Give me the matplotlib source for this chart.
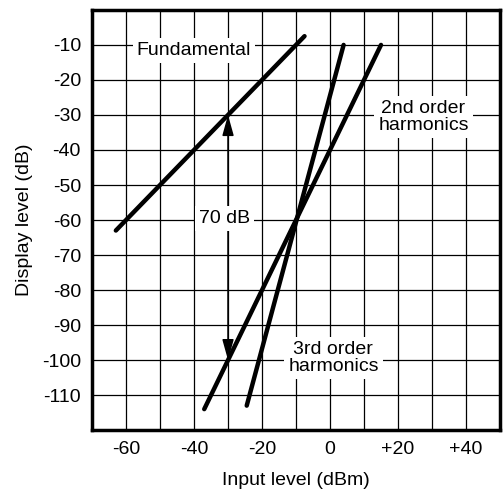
import matplotlib
matplotlib.use("Agg")
import matplotlib.pyplot as plt

plt.rcParams["font.family"] = ["Liberation Sans", "DejaVu Sans"]
plt.rcParams["axes.unicode_minus"] = False

# line end points (input dBm, display dB)
fund_x = [-63, -7.5]
fund_y = [-63, -7.5]
second_x = [-37, 15]
second_y = [-114, -10]
third_x = [-24.5, 4]
third_y = [-113, -10]

x_ticks = [-60, -40, -20, 0, 20, 40]
x_labels = ["-60", "-40", "-20", "0", "+20", "+40"]
y_ticks = [-110, -100, -90, -80, -70, -60, -50, -40, -30, -20, -10]
grid_x = [-60, -50, -40, -30, -20, -10, 0, 10, 20, 30, 40]

arrow_x = -30
arrow_top = -30
arrow_bottom = -100

fig = plt.figure(figsize=(5.03, 4.95), dpi=100)
ax = fig.add_axes([0.183, 0.131, 0.811, 0.849])
ax.set_xlim(-70, 50)
ax.set_ylim(-120, 0)

for gx in grid_x:
    ax.axvline(gx, color="black", lw=0.9, zorder=1)
for gy in y_ticks:
    ax.axhline(gy, color="black", lw=0.9, zorder=1)

for xs, ys in [(fund_x, fund_y), (second_x, second_y), (third_x, third_y)]:
    ax.plot(xs, ys, color="black", lw=3.2, solid_capstyle="round", zorder=4)

for tip in (arrow_top, arrow_bottom):
    ax.annotate("", xy=(arrow_x, tip), xytext=(arrow_x, -60),
                arrowprops=dict(arrowstyle="-|>,head_length=0.9,head_width=0.25",
                                color="black", lw=1.1, mutation_scale=14,
                                shrinkA=0, shrinkB=0), zorder=3)

box = dict(facecolor="white", edgecolor="none", pad=3)
ax.text(-31, -59.5, "70 dB", fontsize=14, ha="center", va="center", bbox=box, zorder=5)
ax.text(-40, -11.5, "Fundamental", fontsize=14, ha="center", va="center", bbox=box, zorder=5)
ax.text(27.5, -30.5, "2nd order\nharmonics", fontsize=14, ha="center", va="center",
        linespacing=1.0, bbox=box, zorder=5)
ax.text(1, -99.5, "3rd order\nharmonics", fontsize=14, ha="center", va="center",
        linespacing=1.0, bbox=box, zorder=5)

ax.set_xticks(x_ticks)
ax.set_xticklabels(x_labels)
ax.set_yticks(y_ticks)
ax.tick_params(length=0, labelsize=14, pad=8)
for s in ax.spines.values():
    s.set_linewidth(2.5)
    s.set_zorder(6)

ax.set_xlabel("Input level (dBm)", fontsize=14, labelpad=10)
ax.set_ylabel("Display level (dB)", fontsize=14, labelpad=6)

fig.savefig("out.png", dpi=100)
